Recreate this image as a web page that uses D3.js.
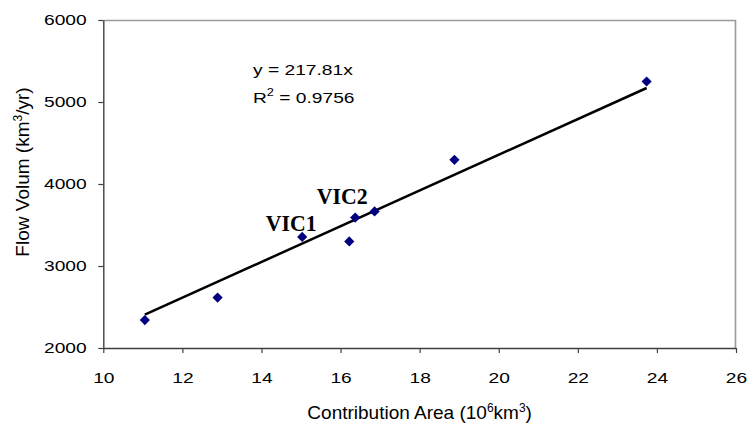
<!DOCTYPE html>
<html>
<head>
<meta charset="utf-8">
<script src="https://cdn.jsdelivr.net/npm/d3@7"></script>
<style>
body { margin: 0; background: #fff; }
text { font-family: "Liberation Sans", Arial, sans-serif; fill: #000; }
</style>
</head>
<body>
<script>
// Data
var areaX = [11.05, 12.89, 15.03, 16.22, 16.37, 16.86, 18.88, 23.74];
var flowY = [2340, 2615, 3355, 3300, 3590, 3665, 4295, 5250];
var pointNames = ["", "", "VIC1", "", "VIC2", "", "", ""];
var slope = 217.81;
var rSquared = 0.9756;
var xTicks = [10, 12, 14, 16, 18, 20, 22, 24, 26];
var yTicks = [2000, 3000, 4000, 5000, 6000];

// Chart params
var svgWidth = 751;
var svgHeight = 430;
var margin = { top: 20, right: 15, bottom: 82, left: 103.3 };
var width = svgWidth - margin.left - margin.right;
var height = svgHeight - margin.top - margin.bottom;
var stretch = 1.28; // tick + equation text is wider than Arial

var svg = d3.select("body").append("svg")
    .attr("width", svgWidth)
    .attr("height", svgHeight);

var chartGroup = svg.append("g")
    .attr("transform", `translate(${margin.left}, ${margin.top})`);

var xScale = d3.scaleLinear().domain([10, 26]).range([0, width]);
var yScale = d3.scaleLinear().domain([2000, 6000]).range([height, 0]);

// plot area border (top and right in grey)
chartGroup.append("path")
    .attr("d", `M0,0.5 H${width - 0.5} V${height}`)
    .attr("fill", "none")
    .attr("stroke", "#9a9a9a")
    .attr("stroke-width", 1.6);

// axes
var bottomAxis = d3.axisBottom(xScale).tickValues(xTicks).tickSize(5).tickSizeOuter(0).tickPadding(19);
var leftAxis = d3.axisLeft(yScale).tickValues(yTicks).tickFormat(d3.format("d")).tickSize(5).tickSizeOuter(0).tickPadding(8);

var xg = chartGroup.append("g")
    .attr("transform", `translate(0, ${height})`)
    .call(bottomAxis);

var yg = chartGroup.append("g")
    .call(leftAxis);

[xg, yg].forEach(function (g) {
    g.attr("font-size", null).attr("font-family", null);
    g.select(".domain").attr("stroke", "#404040").attr("stroke-width", 1.4);
    g.selectAll(".tick line").attr("stroke", "#404040").attr("stroke-width", 1.2);
    g.selectAll(".tick text")
        .style("font-size", "15px")
        .attr("fill", "#000")
        .attr("transform", `scale(${stretch},1)`);
});

// trend line y = slope * x
var xr = d3.extent(areaX);
var line = d3.line().x(d => xScale(d)).y(d => yScale(slope * d));
chartGroup.append("path")
    .attr("d", line(xr))
    .attr("fill", "none")
    .attr("stroke", "#000")
    .attr("stroke-width", 2.5);

// points
var pts = d3.range(areaX.length);
chartGroup.selectAll(".pt")
    .data(pts)
    .enter()
    .append("path")
    .attr("class", "pt")
    .attr("d", d3.symbol().type(d3.symbolSquare).size(52))
    .attr("transform", i => `translate(${xScale(areaX[i])}, ${yScale(flowY[i])}) rotate(45)`)
    .attr("fill", "#000080");

// point labels
var labelOffsets = { "VIC1": [14.5, -6], "VIC2": [12.5, -13.5] };
chartGroup.selectAll(".lbl")
    .data(pts.filter(i => pointNames[i] !== ""))
    .enter()
    .append("text")
    .attr("class", "lbl")
    .attr("transform", i => `translate(${xScale(areaX[i]) + labelOffsets[pointNames[i]][0]}, ${yScale(flowY[i]) + labelOffsets[pointNames[i]][1]}) scale(0.95,1)`)
    .attr("text-anchor", "end")
    .style("font-family", "'Liberation Serif', 'Times New Roman', serif")
    .style("font-weight", "bold")
    .style("font-size", "23px")
    .text(i => pointNames[i]);

// equation
var eq = svg.append("g").attr("transform", `translate(253, 75) scale(${stretch},1)`);
eq.append("text")
    .style("font-size", "15px")
    .text(`y = ${slope}x`);
var r2 = eq.append("text")
    .attr("y", 28.5)
    .style("font-size", "15px");
r2.append("tspan").text("R");
r2.append("tspan").attr("dy", -7).style("font-size", "10px").text("2");
r2.append("tspan").attr("dy", 7).text(` = ${rSquared}`);

// x axis title
var xt = svg.append("text")
    .attr("transform", `translate(${margin.left + width / 2}, 418.5)`)
    .attr("text-anchor", "middle")
    .style("font-size", "19px");
xt.append("tspan").text("Contribution Area (10");
xt.append("tspan").attr("dy", -7).style("font-size", "12px").text("6");
xt.append("tspan").attr("dy", 7).text("km");
xt.append("tspan").attr("dy", -7).style("font-size", "12px").text("3");
xt.append("tspan").attr("dy", 7).text(")");

// y axis title
var yt = svg.append("text")
    .attr("transform", "translate(29, 172) rotate(-90)")
    .attr("text-anchor", "middle")
    .style("font-size", "19px");
yt.append("tspan").text("Flow Volum (km");
yt.append("tspan").attr("dy", -7).style("font-size", "12px").text("3");
yt.append("tspan").attr("dy", 7).text("/yr)");
</script>
</body>
</html>
